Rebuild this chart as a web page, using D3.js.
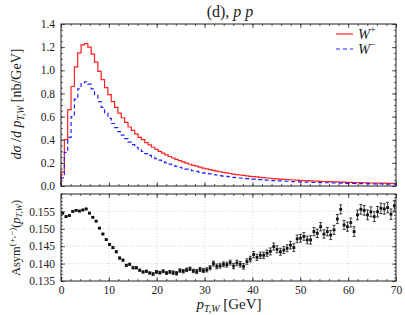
<!DOCTYPE html>
<html>
<head>
<meta charset="utf-8">
<script src="https://cdn.jsdelivr.net/npm/d3@7"></script>
<style>
body { margin: 0; background: #fff; }
svg text { font-family: "Liberation Serif", "DejaVu Serif", serif; fill: #222; }
</style>
</head>
<body>
<svg id="chart" width="405" height="315"></svg>
<script>
// bins of 0.7 GeV from 0 to 70
var binWidth = 0.7;

var wPlus = [0.12,0.40,0.66,0.86,1.03,1.15,1.22,1.23,1.20,1.14,
  1.07,0.99,0.92,0.85,0.79,0.73,0.68,0.63,0.59,0.55,
  0.51,0.48,0.45,0.42,0.40,0.375,0.355,0.335,0.317,0.300,
  0.284,0.269,0.255,0.242,0.230,0.219,0.208,0.198,0.188,0.179,
  0.171,0.163,0.155,0.148,0.141,0.135,0.129,0.123,0.118,0.113,
  0.108,0.103,0.099,0.095,0.091,0.087,0.084,0.081,0.078,0.075,
  0.072,0.069,0.067,0.064,0.062,0.060,0.058,0.056,0.054,0.052,
  0.050,0.049,0.047,0.046,0.044,0.043,0.042,0.040,0.039,0.038,
  0.037,0.036,0.035,0.034,0.033,0.032,0.031,0.030,0.029,0.029,
  0.028,0.027,0.026,0.026,0.025,0.024,0.024,0.023,0.022,0.022];

var wMinus = [0.07,0.29,0.42,0.60,0.75,0.84,0.89,0.90,0.88,0.84,
  0.79,0.73,0.68,0.63,0.585,0.54,0.505,0.47,0.44,0.41,
  0.38,0.357,0.335,0.313,0.298,0.279,0.264,0.249,0.236,0.223,
  0.211,0.200,0.189,0.179,0.170,0.162,0.154,0.146,0.139,0.132,
  0.126,0.120,0.114,0.109,0.104,0.099,0.095,0.090,0.086,0.083,
  0.079,0.075,0.072,0.069,0.066,0.063,0.061,0.059,0.057,0.055,
  0.053,0.051,0.049,0.047,0.045,0.044,0.042,0.041,0.039,0.038,
  0.037,0.036,0.034,0.033,0.032,0.031,0.030,0.029,0.028,0.028,
  0.027,0.026,0.025,0.025,0.024,0.023,0.023,0.022,0.021,0.021,
  0.020,0.020,0.019,0.019,0.018,0.018,0.017,0.017,0.016,0.016];

var asym = [0.1545,0.1535,0.1538,0.1550,0.1553,0.1551,0.1554,0.1557,0.1545,0.1533,
  0.1522,0.1502,0.1485,0.1469,0.1455,0.1446,0.1434,0.1416,0.1410,0.1395,
  0.1398,0.1388,0.1388,0.1381,0.1376,0.1378,0.1373,0.1370,0.1376,0.1374,
  0.1378,0.1373,0.1376,0.1374,0.1372,0.1380,0.1378,0.1382,0.1385,0.1379,
  0.1377,0.1383,0.1380,0.1382,0.1388,0.1400,0.1392,0.1394,0.1398,0.1397,
  0.1403,0.1393,0.1402,0.1398,0.1392,0.1406,0.1413,0.1426,0.1418,0.1424,
  0.1424,0.1430,0.1435,0.1449,0.1441,0.1434,0.1439,0.1444,0.1453,0.1446,
  0.1471,0.1473,0.1478,0.1468,0.1468,0.1492,0.1487,0.1506,0.1485,0.1492,
  0.1482,0.1497,0.1528,0.1556,0.1511,0.1506,0.1518,0.1492,0.1540,0.1556,
  0.1553,0.1540,0.1549,0.1535,0.1549,0.1559,0.1557,0.1561,0.1542,0.1566];

var asymErr = [0.0002,0.0002,0.0002,0.0002,0.0002,0.0002,0.0002,0.0002,0.0002,0.0002,
  0.0002,0.0002,0.0002,0.0002,0.0002,0.0003,0.0003,0.0003,0.0003,0.0003,
  0.0003,0.0003,0.0003,0.0003,0.0003,0.0003,0.0003,0.0004,0.0004,0.0004,
  0.0004,0.0004,0.0004,0.0005,0.0005,0.0005,0.0005,0.0005,0.0005,0.0005,
  0.0006,0.0006,0.0006,0.0006,0.0006,0.0007,0.0007,0.0007,0.0007,0.0007,
  0.0007,0.0008,0.0008,0.0008,0.0008,0.0008,0.0008,0.0009,0.0009,0.0009,
  0.0009,0.0009,0.0010,0.0010,0.0010,0.0010,0.0010,0.0010,0.0011,0.0011,
  0.0011,0.0011,0.0011,0.0011,0.0012,0.0012,0.0012,0.0012,0.0012,0.0012,
  0.0013,0.0013,0.0013,0.0013,0.0013,0.0013,0.0013,0.0014,0.0014,0.0014,
  0.0014,0.0014,0.0014,0.0014,0.0015,0.0015,0.0015,0.0015,0.0015,0.0015];

var xTicks = [0, 10, 20, 30, 40, 50, 60, 70];
var yTopTicks = [0, 0.2, 0.4, 0.6, 0.8, 1.0, 1.2, 1.4];
var yBotTicks = [0.135, 0.140, 0.145, 0.150, 0.155];
var seriesNames = ["W+", "W-"];
var seriesColors = ["#ff2020", "#2020ff"];

var svg = d3.select("#chart");
var left = 61, right = 396;
var topY0 = 24, topY1 = 186;
var botY0 = 194, botY1 = 281;

var x = d3.scaleLinear().domain([0, 70]).range([left, right]);
var yTop = d3.scaleLinear().domain([0, 1.4]).range([topY1, topY0]);
var yBot = d3.scaleLinear().domain([0.135, 0.16]).range([botY1, botY0]);

var edges = d3.range(0, 101).map(function(i){ return i * binWidth; });
var centers = d3.range(0, 100).map(function(i){ return (i + 0.5) * binWidth; });

// inward ticks on all four sides of a panel
function frameTicks(g, ys, y0, y1, yMajor, yMinor, showX){
    var axB = d3.axisBottom(x).tickValues(xTicks).tickSize(-4).tickPadding(5)
        .tickFormat(showX ? d3.format("d") : "");
    g.append("g").attr("transform", "translate(0," + y1 + ")").call(axB);
    g.append("g").attr("transform", "translate(0," + y1 + ")")
        .call(d3.axisBottom(x).tickValues(d3.range(0, 71, 2)).tickSize(-2).tickFormat(""));
    g.append("g").attr("transform", "translate(0," + y0 + ")")
        .call(d3.axisTop(x).tickValues(xTicks).tickSize(-4).tickFormat(""));
    g.append("g").attr("transform", "translate(0," + y0 + ")")
        .call(d3.axisTop(x).tickValues(d3.range(0, 71, 2)).tickSize(-2).tickFormat(""));
    g.append("g").attr("transform", "translate(" + left + ",0)")
        .call(d3.axisLeft(ys).tickValues(yMajor).tickSize(-4).tickPadding(6)
            .tickFormat(d3.format(yMajor[1] < 0.2 ? ".3f" : ".1f")));
    g.append("g").attr("transform", "translate(" + left + ",0)")
        .call(d3.axisLeft(ys).tickValues(yMinor).tickSize(-2).tickFormat(""));
    g.append("g").attr("transform", "translate(" + right + ",0)")
        .call(d3.axisRight(ys).tickValues(yMajor).tickSize(-4).tickFormat(""));
    g.append("g").attr("transform", "translate(" + right + ",0)")
        .call(d3.axisRight(ys).tickValues(yMinor).tickSize(-2).tickFormat(""));
    g.selectAll(".domain").remove();
    g.selectAll(".tick line").attr("stroke", "#333").attr("stroke-width", 0.8);
    g.selectAll(".tick text").style("font-size", "11.5px").attr("fill", "#444");
    g.append("rect").attr("x", left).attr("y", y0)
        .attr("width", right - left).attr("height", y1 - y0)
        .attr("fill", "none").attr("stroke", "#222").attr("stroke-width", 1);
}

// ---- top panel
var gTop = svg.append("g");
var stepLine = d3.line()
    .x(function(d){ return x(d[0]); })
    .y(function(d){ return yTop(d[1]); })
    .curve(d3.curveStepAfter);

[wPlus, wMinus].forEach(function(vals, k){
    var pts = [[0, 0]];
    vals.forEach(function(v, i){ pts.push([edges[i], v]); });
    pts.push([edges[100], vals[vals.length - 1]]);
    gTop.append("path").datum(pts)
        .attr("d", stepLine)
        .attr("fill", "none")
        .attr("stroke", seriesColors[k])
        .attr("stroke-width", 1.2)
        .attr("stroke-dasharray", k === 1 ? "4,3" : null);
});

frameTicks(gTop, yTop, topY0, topY1, yTopTicks, d3.range(0, 1.401, 0.05), false);

// legend
var leg = svg.append("g");
seriesNames.forEach(function(n, k){
    var ly = 34 + k * 15;
    leg.append("line").attr("x1", 336).attr("x2", 353).attr("y1", ly).attr("y2", ly)
        .attr("stroke", seriesColors[k]).attr("stroke-width", 1.2)
        .attr("stroke-dasharray", k === 1 ? "4,3" : null);
    var t = leg.append("text").attr("x", 358).attr("y", ly + 5).style("font-size", "14.5px");
    t.append("tspan").style("font-style", "italic").text("W");
    t.append("tspan").attr("dy", -6).style("font-size", "10px").text(k === 0 ? "+" : "\u2212");
});

// ---- bottom panel
var gBot = svg.append("g");
gBot.append("g").selectAll("line.gx").data(xTicks.slice(1, -1)).enter().append("line")
    .attr("x1", function(d){ return x(d); }).attr("x2", function(d){ return x(d); })
    .attr("y1", botY0).attr("y2", botY1)
    .attr("stroke", "#bbb").attr("stroke-width", 0.6).attr("stroke-dasharray", "1,2");
gBot.append("g").selectAll("line.gy").data(yBotTicks.slice(1)).enter().append("line")
    .attr("x1", left).attr("x2", right)
    .attr("y1", function(d){ return yBot(d); }).attr("y2", function(d){ return yBot(d); })
    .attr("stroke", "#bbb").attr("stroke-width", 0.6).attr("stroke-dasharray", "1,2");

var pts = gBot.append("g").selectAll("g").data(asym).enter().append("g");
pts.append("line")
    .attr("x1", function(d, i){ return x(centers[i]); })
    .attr("x2", function(d, i){ return x(centers[i]); })
    .attr("y1", function(d, i){ return yBot(d - asymErr[i]); })
    .attr("y2", function(d, i){ return yBot(d + asymErr[i]); })
    .attr("stroke", "#111").attr("stroke-width", 0.8);
[-1, 1].forEach(function(s){
    pts.append("line")
        .attr("x1", function(d, i){ return x(centers[i]) - 1.5; })
        .attr("x2", function(d, i){ return x(centers[i]) + 1.5; })
        .attr("y1", function(d, i){ return yBot(d + s * asymErr[i]); })
        .attr("y2", function(d, i){ return yBot(d + s * asymErr[i]); })
        .attr("stroke", "#111").attr("stroke-width", 0.8);
});
pts.append("rect")
    .attr("x", function(d, i){ return x(centers[i]) - 1.4; })
    .attr("y", function(d){ return yBot(d) - 1.4; })
    .attr("width", 2.8).attr("height", 2.8).attr("fill", "#111");

frameTicks(gBot, yBot, botY0, botY1, yBotTicks, d3.range(0.135, 0.1601, 0.001), true);

// ---- texts
var title = svg.append("text").attr("x", 230).attr("y", 17)
    .attr("text-anchor", "middle").style("font-size", "16px");
title.append("tspan").text("(d), ");
title.append("tspan").style("font-style", "italic").text("p p");

var yl = svg.append("text").attr("transform", "translate(21,104) rotate(-90)")
    .attr("text-anchor", "middle").style("font-size", "14px");
yl.append("tspan").style("font-style", "italic").text("d\u03C3");
yl.append("tspan").text(" /");
yl.append("tspan").style("font-style", "italic").text("d p");
yl.append("tspan").attr("dy", 3).style("font-size", "9.5px").style("font-style", "italic").text("T,W");
yl.append("tspan").attr("dy", -3).text(" [nb/GeV]");

var al = svg.append("text").attr("transform", "translate(20,238) rotate(-90)")
    .attr("text-anchor", "middle").style("font-size", "12.5px");
al.append("tspan").text("Asym");
al.append("tspan").attr("dy", -5).style("font-size", "9px").text("(+,\u2212)");
al.append("tspan").attr("dy", 5).text("(");
al.append("tspan").style("font-style", "italic").text("p");
al.append("tspan").attr("dy", 2).style("font-size", "8.5px").style("font-style", "italic").text("T,W");
al.append("tspan").attr("dy", -2).text(")");

var xl = svg.append("text").attr("x", 229).attr("y", 309)
    .attr("text-anchor", "middle").style("font-size", "15px");
xl.append("tspan").style("font-style", "italic").text("p");
xl.append("tspan").attr("dy", 3).style("font-size", "10px").style("font-style", "italic").text("T,W");
xl.append("tspan").attr("dy", -3).text(" [GeV]");
</script>
</body>
</html>
